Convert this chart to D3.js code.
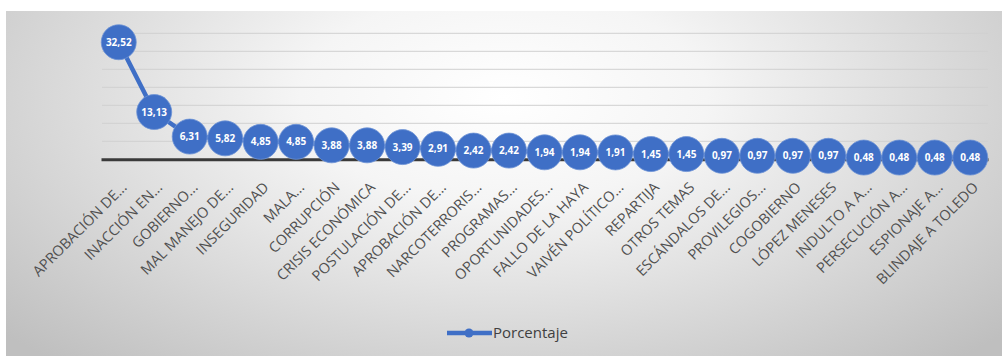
<!DOCTYPE html>
<html lang="es">
<head>
<meta charset="UTF-8">
<title>Porcentaje</title>
<script src="https://d3js.org/d3.v7.min.js"></script>
<style>
  body { margin: 0; background: #fff; }
  svg { display: block; }
</style>
</head>
<body>
<div id="chart"></div>
<script>
// categories and values
var categories = ["APROBACIÓN DE...", "INACCIÓN EN...", "GOBIERNO...", "MAL MANEJO DE...", "INSEGURIDAD",
  "MALA...", "CORRUPCIÓN", "CRISIS ECONÓMICA", "POSTULACIÓN DE...", "APROBACIÓN DE... ",
  "NARCOTERRORIS...", "PROGRAMAS...", "OPORTUNIDADES...", "FALLO DE LA HAYA", "VAIVÉN POLÍTICO...",
  "REPARTIJA", "OTROS TEMAS", "ESCÁNDALOS DE...", "PROVILEGIOS...", "COGOBIERNO",
  "LÓPEZ MENESES", "INDULTO A A...", "PERSECUCIÓN A...", "ESPIONAJE A...", "BLINDAJE A TOLEDO"];
var porcentaje = [32.52, 13.13, 6.31, 5.82, 4.85, 4.85, 3.88, 3.88, 3.39, 2.91,
  2.42, 2.42, 1.94, 1.94, 1.91, 1.45, 1.45, 0.97, 0.97, 0.97,
  0.97, 0.48, 0.48, 0.48, 0.48];
var gridTicks = [0, 5, 10, 15, 20, 25, 30, 35];
var seriesName = "Porcentaje";

var W = 1002, H = 356;
var blue = "#3f6fc6";

var svg = d3.select("#chart").append("svg")
  .attr("width", W)
  .attr("height", H);

// background panel with gray edges fading to white
var defs = svg.append("defs");
var grad = defs.append("radialGradient")
  .attr("id", "bg")
  .attr("cx", "50%").attr("cy", "25%").attr("r", "68%")
  .attr("gradientTransform", "translate(0.5,0.25) scale(1,1.5) translate(-0.5,-0.25)");
grad.append("stop").attr("offset", "0%").attr("stop-color", "#ffffff");
grad.append("stop").attr("offset", "30%").attr("stop-color", "#f5f5f5");
grad.append("stop").attr("offset", "100%").attr("stop-color", "#bfbfbf");

svg.append("rect")
  .attr("x", 6).attr("y", 11)
  .attr("width", W - 6).attr("height", H - 11)
  .attr("fill", "url(#bg)");

// scales
var x = d3.scaleBand().domain(categories).range([101, 988]);
var y = d3.scaleLinear().domain([0, 35]).range([159.3, 33.3]);

// gridlines
svg.append("g").selectAll("line")
  .data(gridTicks.filter(function(d) { return d > 0; }))
  .enter().append("line")
  .attr("x1", 102).attr("x2", 988)
  .attr("y1", function(d) { return y(d); })
  .attr("y2", function(d) { return y(d); })
  .attr("stroke", "#d0d0d0")
  .attr("stroke-width", 1);

// category axis
var xAxis = svg.append("g")
  .attr("transform", "translate(0," + y(0) + ")")
  .call(d3.axisBottom(x).tickSize(0).tickPadding(0));
xAxis.select(".domain").attr("stroke", "#3a3a3a").attr("stroke-width", 3);
xAxis.selectAll(".tick text")
  .attr("y", 0)
  .attr("dy", null)
  .attr("transform", "translate(9,29) rotate(-45)")
  .attr("text-anchor", "end")
  .attr("fill", "#505050")
  .style("font-family", "'Open Sans', sans-serif")
  .style("font-size", "14.5px");

// line
var cx = function(d, i) { return x(categories[i]) + x.bandwidth() / 2; };
var line = d3.line()
  .x(function(d, i) { return cx(d, i); })
  .y(function(d) { return y(d); });

svg.append("path")
  .datum(porcentaje)
  .attr("fill", "none")
  .attr("stroke", blue)
  .attr("stroke-width", 4.5)
  .attr("d", line);

// markers with values
var pts = svg.append("g").selectAll("g")
  .data(porcentaje)
  .enter().append("g")
  .attr("transform", function(d, i) { return "translate(" + cx(d, i) + "," + y(d) + ")"; });

pts.append("circle")
  .attr("r", 17.5)
  .attr("fill", blue)
  .attr("stroke", "#6d93d6")
  .attr("stroke-width", 0.8);

pts.append("text")
  .attr("text-anchor", "middle")
  .attr("dy", "0.35em")
  .attr("fill", "#ffffff")
  .style("font-family", "'Open Sans', sans-serif")
  .style("font-weight", "bold")
  .style("font-size", "10px")
  .text(function(d) { return d3.format(".2f")(d).replace(".", ","); });

// legend
var lg = svg.append("g").attr("transform", "translate(447,333)");
lg.append("line")
  .attr("x1", 0).attr("x2", 45)
  .attr("stroke", blue).attr("stroke-width", 4.5);
lg.append("circle")
  .attr("cx", 22).attr("r", 4.5).attr("fill", blue);
lg.append("text")
  .attr("x", 46).attr("dy", "0.35em")
  .attr("fill", "#404040")
  .style("font-family", "'Open Sans', sans-serif")
  .style("font-size", "15px")
  .text(seriesName);
</script>
</body>
</html>
